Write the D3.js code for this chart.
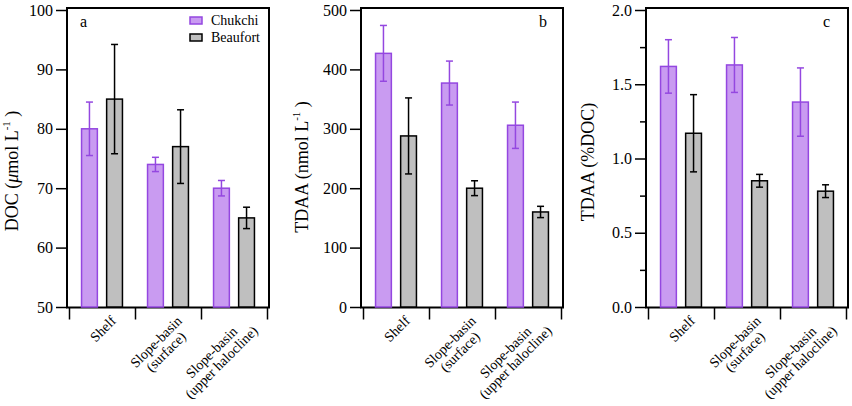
<!DOCTYPE html>
<html>
<head>
<meta charset="utf-8">
<script src="https://cdn.jsdelivr.net/npm/d3@7"></script>
<style>
  body { margin: 0; background: #fff; }
  svg text { font-family: "Liberation Serif", "Times New Roman", Times, serif; fill: #000; }
</style>
</head>
<body>
<script>
// data
var categories = [["Shelf"], ["Slope-basin", "(surface)"], ["Slope-basin", "(upper halocline)"]];
var series = ["Chukchi", "Beaufort"];

var docChukchi = [80, 74, 70],
    docChukchiErr = [4.5, 1.2, 1.3],
    docBeaufort = [85, 77, 65],
    docBeaufortErr = [9.2, 6.2, 1.8];

var tdaaChukchi = [427, 377, 306],
    tdaaChukchiErr = [47, 37, 39],
    tdaaBeaufort = [288, 200, 160],
    tdaaBeaufortErr = [64, 12.5, 9.5];

var pctChukchi = [1.62, 1.63, 1.38],
    pctChukchiErr = [0.18, 0.185, 0.23],
    pctBeaufort = [1.17, 0.85, 0.78],
    pctBeaufortErr = [0.26, 0.043, 0.043];

var docTicks = [50, 60, 70, 80, 90, 100],
    tdaaTicks = [0, 100, 200, 300, 400, 500],
    pctTicks = [0, 0.5, 1.0, 1.5, 2.0],
    pctMinor = [0.25, 0.75, 1.25, 1.75];

var colors = {
  Chukchi: {fill: "#c99bf1", stroke: "#9447e0"},
  Beaufort: {fill: "#bfbfbf", stroke: "#000"}
};

var FONT = "Liberation Serif, Times New Roman, serif";

var svg = d3.select("body").append("svg")
    .attr("width", 852)
    .attr("height", 406)
    .attr("font-family", FONT);

var frameTop = 8, frameBottom = 307.5;

function panel(opt) {
  var g = svg.append("g");
  var left = opt.left, right = left + 202;

  var x = d3.scaleBand()
      .domain(d3.range(categories.length))
      .range([left + 2, right - 2])
      .padding(0);
  var xs = d3.scaleBand()
      .domain(series)
      .range([0, x.bandwidth()])
      .paddingInner(0.37)
      .paddingOuter(0.5);
  var y = d3.scaleLinear()
      .domain(opt.domain)
      .range([307, 10]);

  var rows = [];
  categories.forEach(function(c, i) {
    rows.push({cat: i, s: "Chukchi", v: opt.chukchi[i], e: opt.chukchiErr[i]});
    rows.push({cat: i, s: "Beaufort", v: opt.beaufort[i], e: opt.beaufortErr[i]});
  });

  // frame: black box with white inside, 2px border
  g.append("rect")
      .attr("x", left - 1).attr("y", frameTop - 1)
      .attr("width", right - left + 2).attr("height", frameBottom - frameTop + 2)
      .attr("fill", "#000");
  g.append("rect")
      .attr("x", left + 1).attr("y", frameTop + 1)
      .attr("width", right - left - 2).attr("height", frameBottom - frameTop - 2)
      .attr("fill", "#fff");

  // bars
  g.selectAll(".bar")
      .data(rows)
    .enter().append("rect")
      .attr("class", "bar")
      .attr("x", function(d) { return x(d.cat) + xs(d.s); })
      .attr("width", xs.bandwidth())
      .attr("y", function(d) { return y(d.v); })
      .attr("height", function(d) { return y(opt.domain[0]) - y(d.v); })
      .attr("fill", function(d) { return colors[d.s].fill; })
      .attr("stroke", function(d) { return colors[d.s].stroke; })
      .attr("stroke-width", 1.5);

  // error bars
  var eb = g.selectAll(".err")
      .data(rows)
    .enter().append("g")
      .attr("class", "err")
      .attr("stroke", function(d) { return colors[d.s].stroke; })
      .attr("stroke-width", 1.5)
      .attr("transform", function(d) {
        return "translate(" + (x(d.cat) + xs(d.s) + xs.bandwidth() / 2) + ",0)";
      });
  eb.append("line")
      .attr("y1", function(d) { return y(d.v + d.e); })
      .attr("y2", function(d) { return y(d.v - d.e); });
  eb.append("line")
      .attr("x1", -3.5).attr("x2", 3.5)
      .attr("y1", function(d) { return y(d.v + d.e); })
      .attr("y2", function(d) { return y(d.v + d.e); });
  eb.append("line")
      .attr("x1", -3.5).attr("x2", 3.5)
      .attr("y1", function(d) { return y(d.v - d.e); })
      .attr("y2", function(d) { return y(d.v - d.e); });

  // y axis
  var ya = g.append("g")
      .attr("transform", "translate(" + left + ",0)")
      .call(d3.axisLeft(y).tickValues(opt.ticks).tickSize(11).tickPadding(3).tickFormat(opt.fmt));
  ya.attr("font-family", FONT);
  ya.select(".domain").remove();
  ya.selectAll("line").attr("stroke-width", 1.5);
  ya.selectAll("text").attr("font-size", 16);

  if (opt.minor) {
    var ym = g.append("g")
        .attr("transform", "translate(" + left + ",0)")
        .call(d3.axisLeft(y).tickValues(opt.minor).tickSize(6).tickFormat(""));
    ym.select(".domain").remove();
    ym.selectAll("line").attr("stroke-width", 1.5);
  }

  // x axis: ticks at group edges
  var xl = d3.scaleLinear().domain([0, categories.length]).range([left + 2, right - 2]);
  var xa = g.append("g")
      .attr("transform", "translate(0," + frameBottom + ")")
      .call(d3.axisBottom(xl).ticks(categories.length).tickSize(12).tickFormat(""));
  xa.select(".domain").remove();
  xa.selectAll("line").attr("stroke-width", 1.5);

  // category labels, rotated; longest line right-aligned, lines centred
  categories.forEach(function(lines, i) {
    var cx = x(i) + x.bandwidth() / 2;
    var t = g.append("text")
        .attr("font-size", 14)
        .attr("text-anchor", "end")
        .attr("transform", "translate(" + (cx + 7) + "," + 314 + ") rotate(-45)");
    var spans = lines.map(function(l, k) {
      return t.append("tspan").attr("x", 0).attr("y", 11 + k * 14).text(l);
    });
    var w = spans.map(function(s) { return s.node().getComputedTextLength(); });
    var mw = d3.max(w);
    spans.forEach(function(s, k) { s.attr("x", -(mw - w[k]) / 2); });
  });

  // panel letter
  g.append("text")
      .attr("x", opt.letterX).attr("y", 27)
      .attr("font-size", 16)
      .text(opt.letter);

  // y title
  var yt = g.append("text")
      .attr("font-size", 18)
      .attr("text-anchor", "middle")
      .attr("transform", "translate(" + opt.titleX + "," + opt.titleY + ") rotate(-90)");
  opt.title(yt);
}

panel({
  left: 67, domain: [50, 100], ticks: docTicks, fmt: d3.format("d"),
  chukchi: docChukchi, chukchiErr: docChukchiErr,
  beaufort: docBeaufort, beaufortErr: docBeaufortErr,
  letter: "a", letterX: 80, titleX: 18, titleY: 171,
  title: function(t) {
    t.append("tspan").text("DOC (");
    t.append("tspan").attr("font-style", "italic").text("\u03bc");
    t.append("tspan").text("mol L");
    t.append("tspan").attr("font-size", 11).attr("dy", -8).text("-1");
    t.append("tspan").attr("dy", 8).text(" )");
  }
});

panel({
  left: 361, domain: [0, 500], ticks: tdaaTicks, fmt: d3.format("d"),
  chukchi: tdaaChukchi, chukchiErr: tdaaChukchiErr,
  beaufort: tdaaBeaufort, beaufortErr: tdaaBeaufortErr,
  letter: "b", letterX: 539, titleX: 308, titleY: 167,
  title: function(t) {
    t.append("tspan").text("TDAA (nmol L");
    t.append("tspan").attr("font-size", 11).attr("dy", -8).text("-1");
    t.append("tspan").attr("dy", 8).text(" )");
  }
});

panel({
  left: 646, domain: [0, 2], ticks: pctTicks, fmt: d3.format(".1f"), minor: pctMinor,
  chukchi: pctChukchi, chukchiErr: pctChukchiErr,
  beaufort: pctBeaufort, beaufortErr: pctBeaufortErr,
  letter: "c", letterX: 823, titleX: 594, titleY: 162,
  title: function(t) {
    t.text("TDAA (%DOC)");
  }
});

// legend in panel a
var leg = svg.append("g").attr("transform", "translate(190,14)");
series.forEach(function(s, i) {
  leg.append("rect")
      .attr("x", 0).attr("y", i * 17 + 3)
      .attr("width", 12).attr("height", 7)
      .attr("fill", colors[s].fill)
      .attr("stroke", colors[s].stroke)
      .attr("stroke-width", 1.5);
  leg.append("text")
      .attr("x", 21).attr("y", i * 17 + 11)
      .attr("font-size", 14)
      .text(s);
});
</script>
</body>
</html>
